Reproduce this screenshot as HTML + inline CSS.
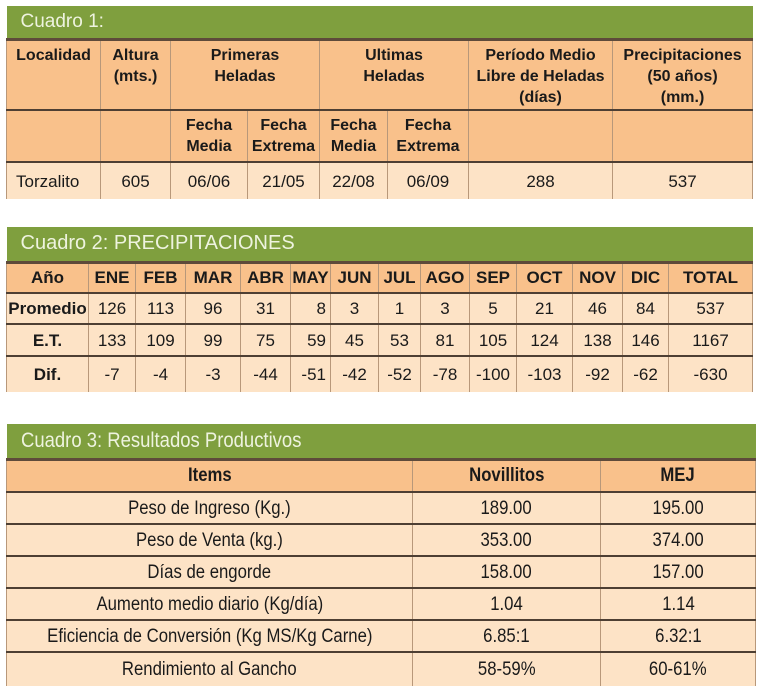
<!DOCTYPE html>
<html><head><meta charset="utf-8"><style>
body{margin:0;width:760px;height:698px;background:#fff;position:relative;overflow:hidden;font-family:"Liberation Sans",Arial,sans-serif;color:#1a1a1a}
.t{position:absolute;border-collapse:collapse;table-layout:fixed}
.t td{padding:0;text-align:center;vertical-align:middle;border-left:1px solid #b8987a;border-right:1px solid #b8987a;border-bottom:2px solid #4e3f33;line-height:21px;font-size:16px;overflow:hidden;white-space:nowrap}
.g td{background:#7f9f3e;color:#eef3df;text-align:left;font-size:19px;padding-left:14px;border:none;border-bottom:3px solid #5e4a3a}
.h td{background:#f9c18b;font-weight:bold}
.r td{background:#fde3c6;font-size:17px}
.t tr:last-child td{border-bottom:none}
.n td{font-size:19px}
.n td span{display:inline-block;transform:scaleX(0.88)}
.n .g td span{transform-origin:left center}
</style></head><body>

<table class="t" style="left:6px;top:6px;width:746px">
<colgroup><col style="width:94px"><col style="width:70px"><col style="width:77px"><col style="width:72px"><col style="width:68px"><col style="width:81px"><col style="width:144px"><col style="width:140px"></colgroup>
<tr class="g" style="height:33px"><td colspan="8">Cuadro 1:</td></tr>
<tr class="h" style="height:71px"><td style="vertical-align:top;padding-top:4px">Localidad</td><td style="vertical-align:top;padding-top:4px">Altura<br>(mts.)</td><td colspan="2" style="vertical-align:top;padding-top:4px">Primeras<br>Heladas</td><td colspan="2" style="vertical-align:top;padding-top:4px">Ultimas<br>Heladas</td><td style="vertical-align:top;padding-top:4px">Período Medio<br>Libre de Heladas<br>(días)</td><td style="vertical-align:top;padding-top:4px">Precipitaciones<br>(50 años)<br>(mm.)</td></tr>
<tr class="h" style="height:52px"><td></td><td></td><td>Fecha<br>Media</td><td>Fecha<br>Extrema</td><td>Fecha<br>Media</td><td>Fecha<br>Extrema</td><td></td><td></td></tr>
<tr class="r" style="height:37px"><td style="text-align:left;padding-left:9px">Torzalito</td><td>605</td><td>06/06</td><td>21/05</td><td>22/08</td><td>06/09</td><td>288</td><td>537</td></tr>
</table>

<table class="t" style="left:6px;top:227px;width:746px">
<colgroup><col style="width:82px"><col style="width:47px"><col style="width:50px"><col style="width:55px"><col style="width:50px"><col style="width:40px"><col style="width:48px"><col style="width:42px"><col style="width:49px"><col style="width:47px"><col style="width:56px"><col style="width:50px"><col style="width:46px"><col style="width:84px"></colgroup>
<tr class="g" style="height:35px"><td colspan="14" style="font-size:20px">Cuadro 2: PRECIPITACIONES</td></tr>
<tr class="h" style="height:31px"><td style="font-size:17px">Año</td><td style="font-size:17px">ENE</td><td style="font-size:17px">FEB</td><td style="font-size:17px">MAR</td><td style="font-size:17px">ABR</td><td style="font-size:17px">MAY</td><td style="font-size:17px">JUN</td><td style="font-size:17px">JUL</td><td style="font-size:17px">AGO</td><td style="font-size:17px">SEP</td><td style="font-size:17px">OCT</td><td style="font-size:17px">NOV</td><td style="font-size:17px">DIC</td><td style="font-size:17px">TOTAL</td></tr>
<tr class="r" style="height:31px"><td><b>Promedio</b></td><td>126</td><td>113</td><td>96</td><td>31</td><td style="text-align:right;padding-right:4px">8</td><td>3</td><td>1</td><td>3</td><td>5</td><td>21</td><td>46</td><td>84</td><td>537</td></tr>
<tr class="r" style="height:32px"><td><b>E.T.</b></td><td>133</td><td>109</td><td>99</td><td>75</td><td style="text-align:right;padding-right:4px">59</td><td>45</td><td>53</td><td>81</td><td>105</td><td>124</td><td>138</td><td>146</td><td>1167</td></tr>
<tr class="r" style="height:36px"><td><b>Dif.</b></td><td>-7</td><td>-4</td><td>-3</td><td>-44</td><td style="text-align:right;padding-right:4px">-51</td><td>-42</td><td>-52</td><td>-78</td><td>-100</td><td>-103</td><td>-92</td><td>-62</td><td>-630</td></tr>
</table>

<table class="t n" style="left:6px;top:424px;width:749px">
<colgroup><col style="width:406px"><col style="width:188px"><col style="width:155px"></colgroup>
<tr class="g" style="height:35px"><td colspan="3" style="font-size:21px"><span>Cuadro 3: Resultados Productivos</span></td></tr>
<tr class="h" style="height:33px"><td><span>Items</span></td><td><span>Novillitos</span></td><td><span>MEJ</span></td></tr>
<tr class="r" style="height:32px"><td><span>Peso de Ingreso (Kg.)</span></td><td><span>189.00</span></td><td><span>195.00</span></td></tr>
<tr class="r" style="height:32px"><td><span>Peso de Venta (kg.)</span></td><td><span>353.00</span></td><td><span>374.00</span></td></tr>
<tr class="r" style="height:32px"><td><span>Días de engorde</span></td><td><span>158.00</span></td><td><span>157.00</span></td></tr>
<tr class="r" style="height:32px"><td><span>Aumento medio diario (Kg/día)</span></td><td><span>1.04</span></td><td><span>1.14</span></td></tr>
<tr class="r" style="height:32px"><td><span>Eficiencia de Conversión (Kg MS/Kg Carne)</span></td><td><span>6.85:1</span></td><td><span>6.32:1</span></td></tr>
<tr class="r" style="height:34px"><td><span>Rendimiento al Gancho</span></td><td><span>58-59%</span></td><td><span>60-61%</span></td></tr>
</table>
</body></html>
